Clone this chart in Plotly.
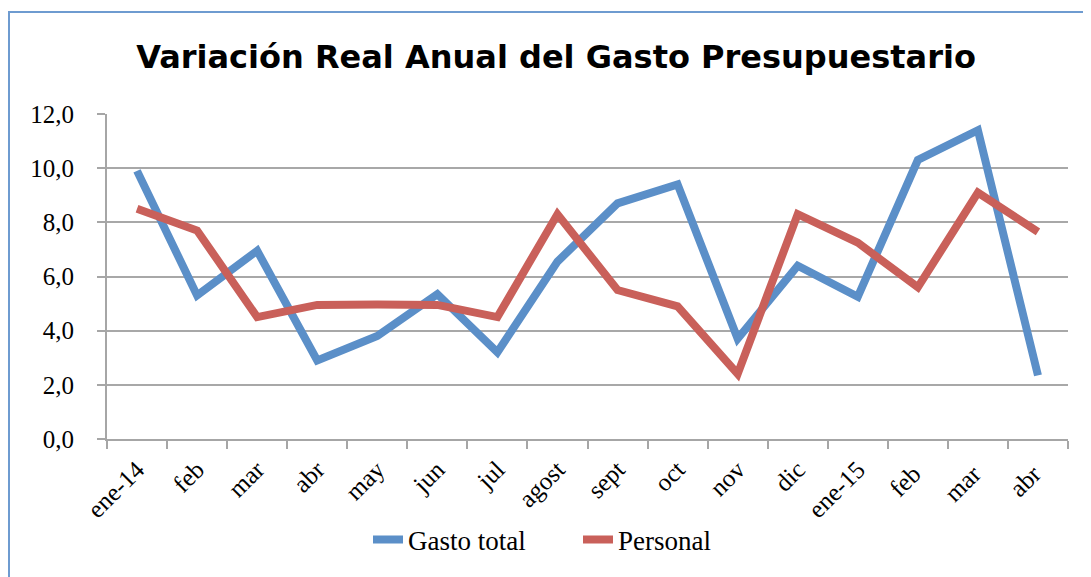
import plotly.graph_objects as go

categories = ["ene-14", "feb", "mar", "abr", "may", "jun", "jul", "agost", "sept",
              "oct", "nov", "dic", "ene-15", "feb ", "mar ", "abr "]
gasto_total = [9.9, 5.3, 6.95, 2.9, 3.8, 5.35, 3.2, 6.55, 8.7, 9.4, 3.7, 6.4, 5.25, 10.3, 11.4, 2.35]
personal = [8.5, 7.7, 4.5, 4.95, 4.97, 4.95, 4.5, 8.3, 5.5, 4.9, 2.4, 8.3, 7.25, 5.6, 9.1, 7.65]

# page has an 8px body margin, so the figure is offset by 8px
W, H = 1083, 569
L, R, T, B = 99, 23, 106, 138
pw, ph = W - L - R, H - T - B

fig = go.Figure()
fig.add_trace(go.Scatter(x=categories, y=gasto_total, mode="lines", name="Gasto total",
                         line=dict(color="#5B8FC8", width=8)))
fig.add_trace(go.Scatter(x=categories, y=personal, mode="lines", name="Personal",
                         line=dict(color="#C9605A", width=8)))

serif = "Liberation Serif, DejaVu Serif, serif"

fig.update_layout(
    width=W, height=H,
    margin=dict(l=L, r=R, t=T, b=B),
    paper_bgcolor="white", plot_bgcolor="white",
    separators=",.",
    title=dict(text="<b>Variación Real Anual del Gasto Presupuestario</b>",
               x=548 / W, xanchor="center", y=1 - 49 / H, yanchor="middle",
               font=dict(family="DejaVu Sans, Verdana, sans-serif", size=32, color="black")),
    showlegend=True,
    legend=dict(orientation="h", x=(570 - L) / pw, xanchor="center",
                y=(H - B - 532) / ph, yanchor="middle",
                font=dict(family=serif, size=27, color="black"),
                entrywidth=165, entrywidthmode="pixels",
                tracegroupgap=0),
    xaxis=dict(type="category", tickangle=-45, tickson="boundaries",
               ticks="outside", ticklen=8, tickcolor="#A6A6A6", tickwidth=2,
               showline=True, linecolor="#A6A6A6", linewidth=2,
               showgrid=False, zeroline=False, ticklabelstandoff=4,
               tickfont=dict(family=serif, size=25, color="black"),
               range=[-0.5, len(categories) - 0.5]),
    yaxis=dict(range=[0, 12], dtick=2, tickformat=".1f",
               ticks="outside", ticklen=8, tickcolor="#A6A6A6", tickwidth=2,
               showline=True, linecolor="#A6A6A6", linewidth=2,
               showgrid=True, gridcolor="#A8A8A8", gridwidth=2, zeroline=False,
               ticklabelstandoff=18,
               tickfont=dict(family=serif, size=25, color="black")),
)

# outer chart border
fig.add_shape(type="rect", xref="paper", yref="paper",
              x0=(1 - L) / pw, x1=(W + 5 - L) / pw,
              y0=(H - B - (H + 5)) / ph, y1=(H - B - 4) / ph,
              line=dict(color="#6E9BD0", width=2), fillcolor="rgba(0,0,0,0)", layer="below")

fig.write_html("out.html")
